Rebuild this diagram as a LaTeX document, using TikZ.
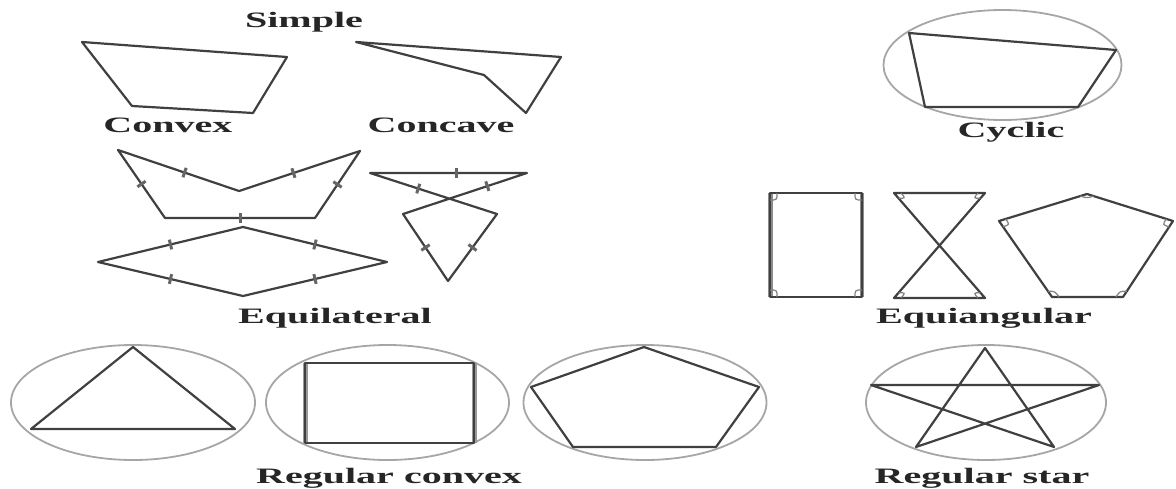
\documentclass[tikz,border=0pt]{standalone}
\usepackage{fontspec}
\setmainfont{Liberation Serif}
\usetikzlibrary{calc}
\newcommand\angmk[3]{\draw[amark] let \p0=(#1), \p1=($(#1)!7pt!(#2)$), \p2=($(#1)!7pt!(#3)$) in (\p1) .. controls ({\x1+\x2-\x0},{\y1+\y2-\y0}) .. (\p2);}
\begin{document}
\begin{tikzpicture}[x=1pt,y=-1pt,
  poly/.style={draw=black!75, line width=2.2pt, line join=round},
  circ/.style={draw=black!35, line width=1.8pt},
  tickmark/.style={fill=black!60, inner sep=0pt, minimum width=3pt, minimum height=10pt, sloped},
  amark/.style={draw=black!50, line width=1.2pt},
  lbl/.style={font=\fontsize{22}{24}\selectfont\bfseries, text=black!85, inner sep=0pt, anchor=base}
]
\useasboundingbox (0,0) rectangle (1176,488);

% ---------- labels ----------
\node[lbl] (simple) at (304,27) {\scalebox{1.82}[1]{Simple}};
\node[lbl] (convexlbl) at (168,132) {\scalebox{1.82}[1]{Convex}};
\node[lbl] (concavelbl) at (441,132) {\scalebox{1.82}[1]{Concave}};
\node[lbl] (cycliclbl) at (1011,137) {\scalebox{1.82}[1]{Cyclic}};
\node[lbl] (equilbl) at (335,323) {\scalebox{1.82}[1]{Equilateral}};
\node[lbl] (equianglbl) at (984,323) {\scalebox{1.82}[1]{Equiangular}};
\node[lbl] (regconvlbl) at (389,483) {\scalebox{1.82}[1]{Regular convex}};
\node[lbl] (regstarlbl) at (982,483) {\scalebox{1.82}[1]{Regular star}};

% ---------- simple ----------
\draw[poly] (82,42) -- (287,57) -- (253,113) -- (132,106) -- cycle;
\draw[poly] (356,42) -- (561,57) -- (526,113) -- (484,75) -- cycle;

% ---------- cyclic ----------
\draw[circ] (1002.5,65) ellipse [x radius=119pt, y radius=55pt];
\draw[poly] (909,33) -- (1116,50) -- (1078,107) -- (925,107) -- cycle;

% ---------- equilateral ----------
\coordinate (w1) at (118,150); \coordinate (w2) at (239,191);
\coordinate (w3) at (360,151); \coordinate (w4) at (315,218);
\coordinate (w5) at (165,218);
\draw[poly] (w1) -- (w2) -- (w3) -- (w4) -- (w5) -- cycle;
\path (w1) -- (w2) node[tickmark,pos=0.55]{};
\path (w2) -- (w3) node[tickmark,pos=0.45]{};
\path (w3) -- (w4) node[tickmark,pos=0.5]{};
\path (w4) -- (w5) node[tickmark,pos=0.5]{};
\path (w5) -- (w1) node[tickmark,pos=0.5]{};

\coordinate (r1) at (98,262); \coordinate (r2) at (243,227);
\coordinate (r3) at (387,262); \coordinate (r4) at (243,296);
\draw[poly] (r1) -- (r2) -- (r3) -- (r4) -- cycle;
\path (r1) -- (r2) node[tickmark,pos=0.5]{};
\path (r2) -- (r3) node[tickmark,pos=0.5]{};
\path (r3) -- (r4) node[tickmark,pos=0.5]{};
\path (r4) -- (r1) node[tickmark,pos=0.5]{};

\coordinate (t1) at (370,173); \coordinate (t2) at (497,214);
\coordinate (t3) at (448,281); \coordinate (t4) at (403,214);
\coordinate (t5) at (527,173);
\draw[poly] (t1) -- (t2) -- (t3) -- (t4) -- (t5) -- cycle;
\path (t1) -- (t2) node[tickmark,pos=0.38]{};
\path (t2) -- (t3) node[tickmark,pos=0.5]{};
\path (t3) -- (t4) node[tickmark,pos=0.5]{};
\path (t4) -- (t5) node[tickmark,pos=0.68]{};
\path (t5) -- (t1) node[tickmark,pos=0.45]{};

% ---------- equiangular ----------
\coordinate (q1) at (770,193); \coordinate (q2) at (862,193);
\coordinate (q3) at (862,297); \coordinate (q4) at (770,297);
\draw[draw=black!45, line width=5pt] (q4) -- (q1);
\draw[draw=black!45, line width=4pt] (q2) -- (q3);
\draw[poly] (q1) -- (q2) -- (q3) -- (q4) -- cycle;
\angmk{q1}{q4}{q2}
\angmk{q2}{q1}{q3}
\angmk{q3}{q2}{q4}
\angmk{q4}{q3}{q1}

\coordinate (h1) at (894,193); \coordinate (h2) at (985,193);
\coordinate (h3) at (894,298); \coordinate (h4) at (985,298);
\draw[poly] (h1) -- (h2) -- (h3) -- (h4) -- cycle;
\angmk{h1}{h2}{h4}
\angmk{h2}{h1}{h3}
\angmk{h3}{h4}{h2}
\angmk{h4}{h3}{h1}

\coordinate (p1) at (1087,194); \coordinate (p2) at (1173,221);
\coordinate (p3) at (1123,297); \coordinate (p4) at (1052,297);
\coordinate (p5) at (999,221);
\draw[poly] (p1) -- (p2) -- (p3) -- (p4) -- (p5) -- cycle;
\angmk{p1}{p5}{p2}
\angmk{p2}{p1}{p3}
\angmk{p3}{p2}{p4}
\angmk{p4}{p3}{p5}
\angmk{p5}{p4}{p1}

% ---------- regular convex ----------
\draw[circ] (133,402.5) ellipse [x radius=122pt, y radius=57.5pt];
\draw[poly] (133,347) -- (235,429) -- (31,429) -- cycle;

\draw[circ] (387.5,402.5) ellipse [x radius=121.5pt, y radius=57.5pt];
\draw[draw=black!40, line width=5pt] (305,363) -- (305,443);
\draw[draw=black!40, line width=5pt] (474,363) -- (474,443);
\draw[poly] (305,363) rectangle (474,443);

\draw[circ] (645,402.5) ellipse [x radius=121.5pt, y radius=57.5pt];
\draw[poly] (644,347) -- (759,387) -- (716,447) -- (573,447) -- (531,387) -- cycle;

% ---------- regular star ----------
\draw[circ] (986,402.5) ellipse [x radius=120pt, y radius=57.5pt];
\draw[poly] (985,348) -- (916,447) -- (1099,385) -- (871,385) -- (1054,447) -- cycle;
\end{tikzpicture}
\end{document}
